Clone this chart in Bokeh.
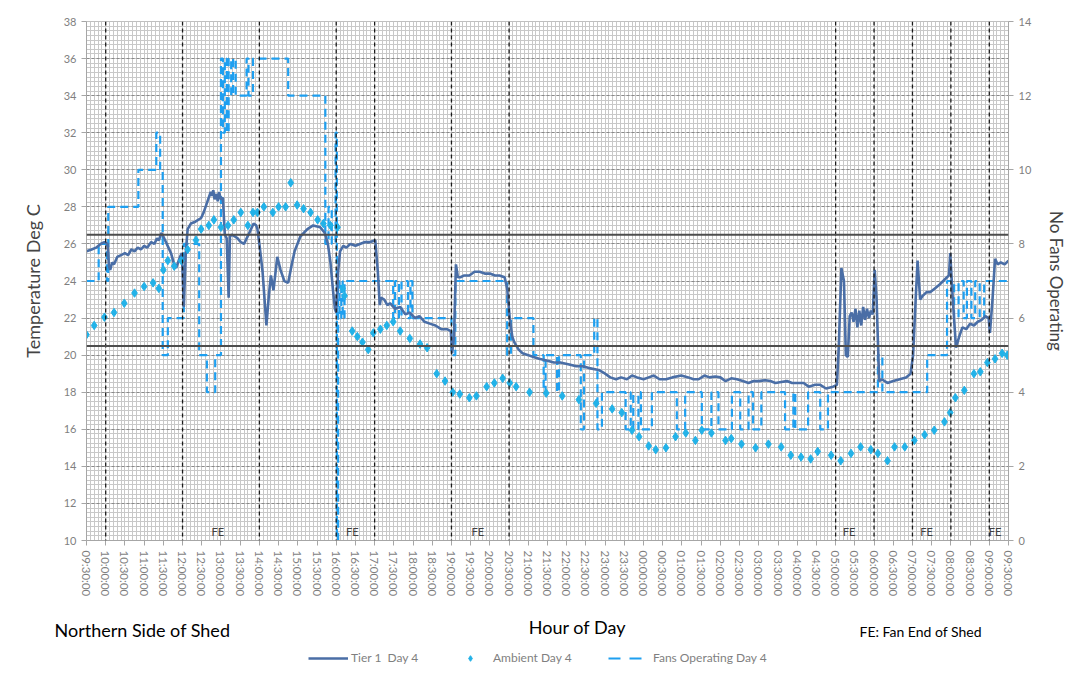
from bokeh.plotting import figure
from bokeh.layouts import column
from bokeh.models import (Range1d, LinearAxis, Span, Label, Legend, LegendItem,
                          FixedTicker, SingleIntervalTicker, ColumnDataSource)
from bokeh.core.properties import value
from bokeh.embed import file_html
from bokeh.resources import INLINE

# ---------------- data ----------------
tier1_times = ["09:30","09:38","09:45","09:52","09:58","10:03","10:05","10:07","10:10","10:13","10:18","10:24","10:30","10:35","10:40","10:45","10:50","10:55","11:00","11:05","11:11","11:16","11:20","11:23","11:27","11:30","11:34","11:38","11:42","11:46","11:50","11:53","11:56","11:59","12:02","12:05","12:08","12:13","12:20","12:29","12:33","12:36","12:40","12:44","12:46","12:48","12:50","12:53","12:55","12:57","13:00","13:03","13:06","13:09","13:12","13:14","13:17","13:22","13:26","13:31","13:36","13:43","13:51","13:55","13:57","14:00","14:05","14:11","14:15","14:18","14:22","14:28","14:33","14:39","14:45","14:50","14:55","15:04","15:15","15:24","15:35","15:42","15:47","15:51","15:55","15:58","16:00","16:03","16:06","16:11","16:16","16:22","16:30","16:37","16:45","16:53","17:01","17:05","17:08","17:10","17:15","17:20","17:24","17:32","17:40","17:48","17:55","18:03","18:10","18:18","18:26","18:35","18:44","18:53","18:59","19:01","19:04","19:07","19:10","19:14","19:20","19:28","19:36","19:44","19:52","20:00","20:08","20:15","20:23","20:27","20:31","20:35","20:38","20:45","20:51","21:00","21:08","21:17","21:30","21:40","21:50","22:04","22:15","22:25","22:35","22:50","23:00","23:08","23:17","23:25","23:34","23:42","23:50","00:00","00:08","00:16","00:25","00:35","00:45","00:59","01:10","01:18","01:26","01:35","01:43","01:52","02:00","02:08","02:17","02:26","02:35","02:44","02:52","03:00","03:10","03:18","03:26","03:35","03:44","03:52","04:01","04:10","04:18","04:28","04:36","04:45","04:56","05:02","05:05","05:09","05:13","05:16","05:19","05:22","05:25","05:28","05:31","05:34","05:37","05:40","05:43","05:46","05:49","05:52","05:55","05:58","06:01","06:04","06:08","06:12","06:21","06:30","06:40","06:50","06:57","07:01","07:05","07:08","07:12","07:16","07:22","07:28","07:35","07:42","07:48","07:54","07:57","07:59","08:03","08:08","08:13","08:18","08:24","08:30","08:36","08:42","08:48","08:54","08:59","09:01","09:05","09:09","09:13","09:18","09:24","09:30"]
tier1_temp = [25.6,25.7,25.8,26.0,26.1,26.0,24.8,24.6,25.0,24.9,25.3,25.4,25.5,25.4,25.7,25.6,25.8,25.7,25.9,25.8,26.1,26.0,26.3,26.2,26.6,26.4,26.1,25.8,25.5,25.0,24.7,25.0,25.3,25.5,22.6,25.5,26.8,27.1,27.2,27.4,27.7,28.0,28.4,28.8,28.6,28.9,28.4,28.7,28.3,28.8,28.4,28.5,26.5,26.3,23.1,26.4,26.5,26.4,26.3,26.1,26.0,26.5,27.1,27.0,26.8,26.0,24.5,21.6,23.3,24.3,23.5,25.3,24.6,24.0,23.9,24.8,25.6,26.4,26.8,27.0,26.9,26.6,26.0,25.0,23.5,22.5,22.3,24.5,25.6,25.9,25.8,26.0,25.9,26.0,26.1,26.1,26.2,24.5,22.7,23.1,23.0,22.7,22.8,22.5,22.6,22.2,22.3,22.0,22.1,21.8,21.7,21.6,21.4,21.4,21.3,20.1,21.0,24.9,24.2,24.2,24.3,24.3,24.5,24.5,24.4,24.4,24.3,24.3,24.2,23.6,22.0,21.0,20.7,20.3,20.1,20.0,19.9,19.8,19.7,19.6,19.6,19.5,19.4,19.4,19.3,19.2,19.0,18.8,18.7,18.8,18.7,18.9,18.8,18.7,18.8,18.9,18.7,18.7,18.8,18.9,18.8,18.7,18.7,18.9,18.8,18.85,18.8,18.6,18.75,18.7,18.6,18.5,18.6,18.6,18.65,18.6,18.5,18.55,18.6,18.5,18.5,18.5,18.3,18.4,18.4,18.2,18.3,18.4,20.5,24.7,24.0,20.0,19.9,22.1,22.3,21.8,22.5,21.5,22.4,21.6,22.6,21.9,22.5,22.0,22.4,22.2,24.6,23.0,18.6,18.7,18.5,18.6,18.7,18.8,19.0,20.0,23.0,25.1,23.0,23.2,23.4,23.4,23.6,23.8,24.0,24.2,24.3,25.5,23.0,20.4,21.0,21.5,21.4,21.7,21.6,21.8,21.9,22.1,22.0,21.2,23.0,25.2,24.9,25.0,24.9,25.1]

ambient_times = ["09:30","09:42","09:58","10:13","10:29","10:45","11:00","11:14","11:23","11:30","11:37","11:47","11:58","12:08","12:21","12:29","12:41","12:49","13:00","13:11","13:20","13:31","13:42","13:50","13:57","14:07","14:21","14:30","14:41","14:49","14:59","15:09","15:20","15:31","15:40","15:51","16:02","16:10","16:13","16:25","16:33","16:41","16:50","16:58","17:09","17:19","17:29","17:40","17:55","18:11","18:22","18:37","18:50","19:02","19:13","19:28","19:39","19:55","20:07","20:20","20:31","20:41","21:02","21:28","21:53","22:19","22:46","23:11","23:26","23:42","23:53","00:08","00:19","00:35","00:50","01:06","01:21","01:31","01:46","02:08","02:17","02:33","02:55","03:15","03:35","03:50","04:06","04:21","04:32","04:53","05:08","05:24","05:39","05:55","06:06","06:21","06:32","06:48","07:03","07:19","07:34","07:50","07:59","08:07","08:21","08:36","08:46","08:57","09:09","09:20","09:28"]
ambient_temp = [21.1,21.6,22.05,22.3,22.8,23.35,23.7,23.9,23.6,24.6,25.1,24.8,25.1,25.7,26.2,26.8,27.0,27.3,26.9,27.0,27.3,27.7,27.0,27.7,27.7,28.0,27.7,28.0,28.0,29.3,28.1,27.9,27.7,27.3,27.1,27.0,26.9,23.6,23.2,21.3,21.0,20.7,20.3,21.2,21.4,21.6,21.8,21.3,20.9,20.6,20.4,19.0,18.6,18.0,17.9,17.7,17.8,18.3,18.5,18.75,18.5,18.3,18.0,17.95,17.8,17.6,17.4,17.1,16.9,15.95,15.6,15.1,14.9,15.0,15.6,15.8,15.4,15.95,15.8,15.4,15.5,15.2,15.0,15.2,15.05,14.6,14.5,14.4,14.8,14.6,14.3,14.7,15.05,14.9,14.7,14.3,15.05,15.05,15.4,15.7,15.95,16.4,16.9,17.7,18.1,19.0,19.1,19.6,19.8,20.1,20.0]

fans_times = ["09:30","09:49","10:02","10:04","10:51","11:19","11:25","11:29","11:37","12:02","12:26","12:38","12:51","13:00","13:03","13:06","13:09","13:12","13:16","13:19","13:23","13:40","13:43","13:50","14:45","15:43","15:48","15:53","15:59","16:01","16:03","16:05","16:08","16:10","16:13","17:29","17:32","17:38","17:42","17:52","17:56","17:59","19:00","19:06","20:27","20:33","21:08","21:24","21:27","21:45","21:48","22:22","22:27","22:43","22:48","22:55","23:32","23:40","23:44","23:52","23:56","00:13","00:52","01:05","01:31","01:46","01:57","02:18","02:31","02:44","02:51","03:04","03:41","03:54","03:57","04:17","04:36","04:48","06:06","06:13","07:23","07:54","08:05","08:12","08:20","08:25","08:32","08:38","08:45","08:52","09:30"]
fans_count = [7,8,7,9,10,11,10,5,6,8,5,4,5,13,11,13,11,13,12,13,12,13,12,13,12,8,9,8,11,0,7,6,7,6,7,6,7,6,7,6,7,6,5,7,5,6,5,4,5,4,5,3,5,6,3,4,3,4,3,4,3,4,3,4,3,4,3,4,3,4,3,4,3,4,3,4,3,4,5,4,5,7,6,7,6,7,6,7,6,7,7]

tick_labels = ["09:30:00","10:00:00","10:30:00","11:00:00","11:30:00","12:00:00","12:30:00","13:00:00","13:30:00","14:00:00","14:30:00","15:00:00","15:30:00","16:00:00","16:30:00","17:00:00","17:30:00","18:00:00","18:30:00","19:00:00","19:30:00","20:00:00","20:30:00","21:00:00","21:30:00","22:00:00","22:30:00","23:00:00","23:30:00","00:00:00","00:30:00","01:00:00","01:30:00","02:00:00","02:30:00","03:00:00","03:30:00","04:00:00","04:30:00","05:00:00","05:30:00","06:00:00","06:30:00","07:00:00","07:30:00","08:00:00","08:30:00","09:00:00","09:30:00"]

marker_times = ["10:00","12:00","14:00","16:00","17:00","19:00","20:30","05:00","06:00","07:00","08:00","09:00"]
fe_times = ["12:55","16:25","19:41","05:21","07:22","09:09"]
limit_temps = [26.5, 20.5]

series_names = ["Tier 1  Day 4", "Ambient Day 4", "Fans Operating Day 4"]
x_title = "Hour of Day"
side_note = "Northern Side of Shed"
fe_note = "FE: Fan End of Shed"


def to_minutes(times):
    """clock times -> minutes after 09:30, rolling over past midnight"""
    out, prev = [], -1
    for t in times:
        h, m = (int(v) for v in t.split(":"))
        v = (h * 60 + m - 570) % 1440
        while v < prev:
            v += 1440
        out.append(v)
        prev = v
    return out


FONT = "Lato"
C_TIER, C_AMB, C_FANS = "#4a6ea6", "#22b2e8", "#1e9ff0"
W = 1070

p = figure(width=W, height=610, output_backend="svg", toolbar_location=None,
           x_range=Range1d(0, 1440), y_range=Range1d(10, 38),
           min_border_left=86, min_border_right=60, min_border_top=21,
           min_border_bottom=70, background_fill_color="white",
           border_fill_color="white", outline_line_color="#bfbfbf")
p.extra_y_ranges = {"fans": Range1d(0, 14)}

# grids
p.xaxis.ticker = FixedTicker(ticks=list(range(0, 1441, 30)),
                             minor_ticks=list(range(0, 1441, 6)))
p.yaxis.ticker = SingleIntervalTicker(interval=2, num_minor_ticks=8)
p.xgrid.grid_line_color = "#c8c8c8"
p.xgrid.minor_grid_line_color = "#c8c8c8"
p.ygrid.grid_line_color = "#8a8a8a"
p.ygrid.grid_line_dash = "3 2"
p.ygrid.minor_grid_line_color = "#c8c8c8"

# axes
p.xaxis.major_label_overrides = {t: lab for t, lab in zip(range(0, 1441, 30), tick_labels)}
p.xaxis.major_label_orientation = "vertical"
p.xaxis.major_label_text_font = FONT
p.xaxis.major_label_text_font_size = "11.5px"
p.xaxis.major_label_text_color = "#7f7f7f"
p.xaxis.axis_line_color = "#a6a6a6"
p.xaxis.major_tick_line_color = "#a6a6a6"
p.xaxis.major_tick_out = 5
p.xaxis.major_tick_in = 0
p.xaxis.minor_tick_line_color = None

p.yaxis.axis_label = "Temperature Deg C"
p.yaxis.axis_label_text_font = FONT
p.yaxis.axis_label_text_font_style = "normal"
p.yaxis.axis_label_text_font_size = "18px"
p.yaxis.axis_label_standoff = 17
p.yaxis.major_label_text_font = FONT
p.yaxis.major_label_text_font_size = "11px"
p.yaxis.major_label_text_color = "#7f7f7f"
p.yaxis.axis_line_color = "#a6a6a6"
p.yaxis.major_tick_line_color = "#a6a6a6"
p.yaxis.major_tick_out = 5
p.yaxis.major_tick_in = 0
p.yaxis.minor_tick_line_color = None

ax2 = LinearAxis(y_range_name="fans", ticker=SingleIntervalTicker(interval=2),
                 axis_label="No Fans Operating")
ax2.axis_label_text_font = FONT
ax2.axis_label_text_font_style = "normal"
ax2.axis_label_text_font_size = "17px"
ax2.axis_label_standoff = 12
ax2.major_label_text_font = FONT
ax2.major_label_text_font_size = "11px"
ax2.major_label_text_color = "#7f7f7f"
ax2.axis_line_color = "#a6a6a6"
ax2.major_tick_line_color = "#a6a6a6"
ax2.major_tick_out = 5
ax2.major_tick_in = 0
ax2.minor_tick_line_color = None
p.add_layout(ax2, "right")

# reference lines
for t in to_minutes(marker_times):
    p.add_layout(Span(location=t, dimension="height", line_color="#1a1a1a",
                      line_dash="4 3", line_width=1.3))
for v in limit_temps:
    p.add_layout(Span(location=v, dimension="width", line_color="#4d4d4d",
                      line_width=2))

# series
src_t = ColumnDataSource(dict(x=to_minutes(tier1_times), y=tier1_temp))
src_a = ColumnDataSource(dict(x=to_minutes(ambient_times), y=ambient_temp))
src_f = ColumnDataSource(dict(x=to_minutes(fans_times), y=fans_count))

p.step("x", "y", source=src_f, mode="after", y_range_name="fans",
       line_color=C_FANS, line_width=2.2, line_dash="8 5")
p.line("x", "y", source=src_t, line_color=C_TIER, line_width=2.6)
p.scatter("x", "y", source=src_a, marker="diamond", size=8.5,
          fill_color=C_AMB, line_color=C_AMB)

# FE labels
for t in to_minutes(fe_times):
    p.add_layout(Label(x=t, y=10.12, text="FE", text_font=FONT,
                       text_font_size="11px", text_color="#404040",
                       text_align="center", text_baseline="bottom"))

# ---------------- footer: titles and legend ----------------
H2 = 60
f = figure(width=W, height=H2, output_backend="svg", toolbar_location=None,
           x_range=Range1d(0, W), y_range=Range1d(0, H2),
           min_border=0, outline_line_color=None, border_fill_color="white")
f.axis.visible = False
f.grid.visible = False
for fig in (p, f):
    try:
        fig.frame_align = False
    except Exception:
        pass

f.text(x=[54], y=[H2 - 19], text=[side_note], text_font=value(FONT),
       text_font_size="18px", text_color="black", text_baseline="middle")
f.text(x=[577], y=[H2 - 16], text=[x_title], text_font=value(FONT),
       text_font_size="18px", text_color="black", text_align="center",
       text_baseline="middle")
f.text(x=[859], y=[H2 - 21], text=[fe_note], text_font=value(FONT),
       text_font_size="14px", text_color="black", text_baseline="middle")

hidden = dict(x=[-50, -40], y=[-50, -50])
g1 = f.line("x", "y", source=ColumnDataSource(hidden), line_color=C_TIER, line_width=2.6)
g2 = f.scatter("x", "y", source=ColumnDataSource(hidden), marker="diamond", size=8.5,
               fill_color=C_AMB, line_color=C_AMB)
g3 = f.line("x", "y", source=ColumnDataSource(hidden), line_color=C_FANS,
            line_width=2.2, line_dash="12 9")

legend_specs = [(g1, 0, 40, 3, 308), (g2, 1, 20, 13, 460), (g3, 2, 36, 9, 608)]
for rend, idx, gw, standoff, xloc in legend_specs:
    f.add_layout(Legend(items=[LegendItem(label=series_names[idx], renderers=[rend])],
                        location=(xloc, 5), orientation="horizontal",
                        border_line_color=None, background_fill_alpha=0,
                        label_text_font=FONT, label_text_font_size="12px",
                        label_text_color="#7f7f7f", glyph_width=gw, glyph_height=14,
                        label_standoff=standoff, padding=3, margin=0))

layout = column(p, f, spacing=0)
open("out.html", "w").write(file_html(layout, INLINE))
